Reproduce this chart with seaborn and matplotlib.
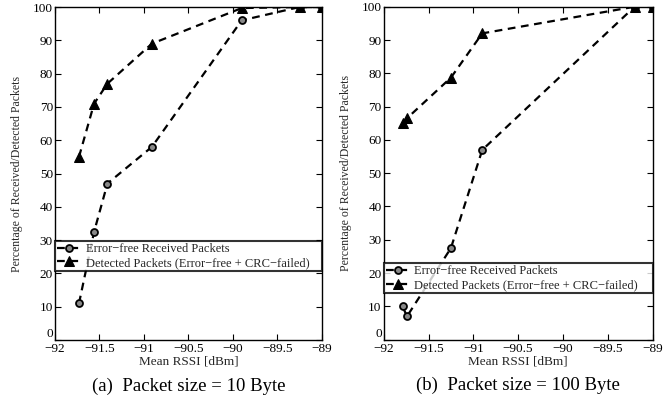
import numpy as np
import pandas as pd
import matplotlib
matplotlib.use("Agg")
import matplotlib.pyplot as plt
import seaborn as sns

# panel (a): packet size 10 byte
rssi_a = [-91.73, -91.56, -91.41, -90.91, -89.90, -89.25, -89.0]
errfree_a = [11, 32.5, 47, 58, 96, 100, 100]
detected_a = [55, 71, 77, 89, 99.7, 100, 100]

# panel (b): packet size 100 byte
rssi_b = [-91.79, -91.74, -91.25, -90.90, -89.20, -89.0]
errfree_b = [10, 7, 27.5, 57, 100, 100]
detected_b = [65, 66.5, 78.7, 92, 100, 100]

xticks = [-92, -91.5, -91, -90.5, -90, -89.5, -89]
xtick_labels = ["\u221292", "\u221291.5", "\u221291", "\u221290.5", "\u221290", "\u221289.5", "\u221289"]
yticks = [0, 10, 20, 30, 40, 50, 60, 70, 80, 90, 100]

label_err = "Error\u2212free Received Packets"
label_det = "Detected Packets (Error\u2212free + CRC\u2212failed)"
captions = ["(a)  Packet size = 10 Byte", "(b)  Packet size = 100 Byte"]

sns.set_theme(style="ticks")
plt.rcParams["font.family"] = ["Liberation Serif", "DejaVu Serif"]
plt.rcParams["xtick.direction"] = "in"
plt.rcParams["ytick.direction"] = "in"
plt.rcParams["axes.edgecolor"] = "black"
plt.rcParams["axes.linewidth"] = 1.0

fig = plt.figure(figsize=(6.72, 4.08), dpi=100)
ax_a = fig.add_axes([0.0818, 0.1667, 0.397, 0.816])
ax_b = fig.add_axes([0.571, 0.1675, 0.400, 0.816])

panels = [
    (ax_a, rssi_a, errfree_a, detected_a, 0.208, 0.298),
    (ax_b, rssi_b, errfree_b, detected_b, 0.140, 0.226),
]

dash = (0, (3.5, 2.5))

for i, (ax, x, err, det, leg_lo, leg_hi) in enumerate(panels):
    df = pd.DataFrame({"rssi": x, "err": err, "det": det})
    sns.lineplot(data=df, x="rssi", y="err", ax=ax, sort=False, color="black",
                 linewidth=1.6, marker="o", markersize=5,
                 markerfacecolor="#888888", markeredgecolor="black",
                 markeredgewidth=1.3, label=label_err)
    sns.lineplot(data=df, x="rssi", y="det", ax=ax, sort=False, color="black",
                 linewidth=1.6, marker="^", markersize=6.5,
                 markerfacecolor="black", markeredgecolor="black",
                 label=label_det)
    for ln in ax.get_lines():
        ln.set_linestyle(dash)
    ax.set_xlim(-92, -89)
    ax.set_ylim(0, 100)
    ax.set_xticks(xticks)
    ax.set_xticklabels(xtick_labels)
    ax.set_yticks(yticks)
    ax.tick_params(axis="both", labelsize=9.5, length=4, width=0.8,
                   top=True, right=True, colors="black", pad=1.5)
    ax.tick_params(axis="x", pad=2.5)
    # lift the "0" so it sits above the first x tick label, as in the original
    ax.yaxis.get_major_ticks()[0].label1.set_verticalalignment("bottom")
    ax.set_xlabel("Mean RSSI [dBm]", fontsize=9.5, labelpad=0)
    ax.set_ylabel("Percentage of Received/Detected Packets", fontsize=8.5, labelpad=7)
    for s in ax.spines.values():
        s.set_visible(True)
        s.set_color("black")
    leg = ax.legend(loc="lower left", bbox_to_anchor=(0, leg_lo, 1, leg_hi - leg_lo),
                    mode="expand", fontsize=9, frameon=True, fancybox=False,
                    borderpad=0.15, labelspacing=0.15, handlelength=2.0,
                    handletextpad=0.3, borderaxespad=0)
    leg.get_frame().set_edgecolor("black")
    leg.get_frame().set_linewidth(1.5)
    for h in leg.get_lines():
        h.set_linestyle(dash)
    ax.text(0.5, -0.138, captions[i], transform=ax.transAxes, ha="center",
            va="center", fontsize=13.5, color="black")

fig.savefig("out.png", dpi=100)
